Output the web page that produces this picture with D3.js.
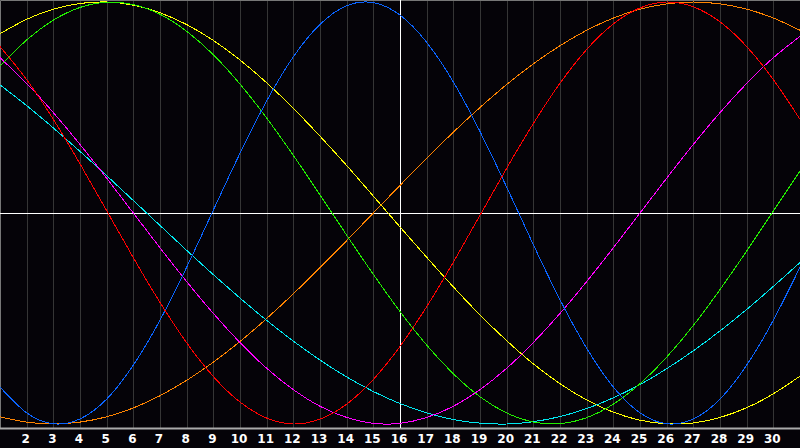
<!DOCTYPE html>
<html>
<head>
<meta charset="utf-8">
<script src="https://cdn.jsdelivr.net/npm/d3@7"></script>
<style>
  html, body { margin: 0; padding: 0; background: #050308; }
  svg { display: block; }
  .tick-label { font-family: "DejaVu Sans", sans-serif; font-weight: bold; font-size: 12px; fill: #fff; }
</style>
</head>
<body>
<div id="chart"></div>
<script>
// days shown on the axis, values in percent (-100..100)
var days = d3.range(1, 32);
var tickDays = d3.range(2, 31);
var today = 16;

var physical     = [-82.5,-94.7,-99.9,-97.6,-88.2,-72.1,-50.8,-25.7,1.4,28.3,53.1,74.0,89.4,98.2,99.7,93.8,80.9,62.1,38.6,12.3,-15.0,-41.1,-64.1,-82.5,-94.7,-99.9,-97.6,-88.2,-72.1,-50.8,-25.7];
var emotional    = [78.9,63.2,44.4,23.3,1.1,-21.2,-42.4,-61.5,-77.5,-89.6,-97.2,-100.0,-97.7,-90.6,-78.9,-63.2,-44.4,-23.3,-1.1,21.2,42.4,61.5,77.5,89.6,97.2,100.0,97.7,90.6,78.9,63.2,44.4];
var intellectual = [69.7,82.0,91.4,97.4,99.9,98.8,94.2,86.1,75.0,61.1,45.0,27.3,8.6,-10.5,-29.1,-46.7,-62.6,-76.2,-87.1,-94.8,-99.1,-99.8,-97.0,-90.6,-80.9,-68.3,-53.3,-36.3,-18.0,1.0,19.9];
var intuitive    = [73.6,61.4,47.6,32.5,16.5,0,-16.5,-32.5,-47.6,-61.4,-73.6,-83.7,-91.6,-96.9,-99.7,-99.7,-96.9,-91.6,-83.7,-73.6,-61.4,-47.6,-32.5,-16.5,0,16.5,32.5,47.6,61.4,73.6,83.7];
var aesthetic    = [85.0,91.8,96.6,99.3,100.0,98.5,94.9,89.3,81.8,72.5,61.7,49.6,36.4,22.5,8.0,-6.6,-21.0,-35.0,-48.3,-60.5,-71.5,-80.9,-88.6,-94.4,-98.2,-99.9,-99.5,-96.9,-92.3,-85.7,-77.3];
var awareness    = [-96.6,-99.1,-100,-99.1,-96.6,-92.4,-86.6,-79.3,-70.7,-60.9,-50.0,-38.3,-25.9,-13.1,0,13.1,25.9,38.3,50.0,60.9,70.7,79.3,86.6,92.4,96.6,99.1,100,99.1,96.6,92.4,86.6];
var spiritual    = [60.7,50.9,40.3,29.2,17.7,5.9,-5.9,-17.7,-29.2,-40.3,-50.9,-60.7,-69.7,-77.7,-84.6,-90.3,-94.7,-97.9,-99.6,-100.0,-98.9,-96.5,-92.7,-87.6,-81.3,-73.8,-65.3,-55.9,-45.7,-34.8,-23.5];

var series = [
	{name: 'aesthetic', color: '#ffff00', values: aesthetic},
	{name: 'awareness', color: '#ff8400', values: awareness},
	{name: 'spiritual', color: '#00e8f0', values: spiritual},
	{name: 'intuitive', color: '#ff00ff', values: intuitive},
	{name: 'intellectual', color: '#22ee00', values: intellectual},
	{name: 'physical', color: '#0a64ff', values: physical},
	{name: 'emotional', color: '#ff0000', values: emotional}
];

var width = 800, height = 448;
var plotBottom = 428;

var svg = d3.select('#chart').append('svg')
		.attr('width', width)
		.attr('height', height);

svg.append('rect')
	.attr('width', width).attr('height', height)
	.attr('fill', '#050308');

var x = d3.scaleLinear().domain([1, 31]).range([0, width]);
var y = d3.scaleLinear().domain([-100, 100]).range([424, 2]);

// day grid
svg.append('g').selectAll('line')
	.data(tickDays)
	.enter().append('line')
	.attr('x1', function(d) { return Math.round(x(d)) + 0.5; })
	.attr('x2', function(d) { return Math.round(x(d)) + 0.5; })
	.attr('y1', 0)
	.attr('y2', plotBottom)
	.attr('stroke', '#353535')
	.attr('stroke-width', 1);

// frame
svg.append('path')
	.attr('d', 'M0.5,' + plotBottom + ' V0.5 H' + width)
	.attr('fill', 'none')
	.attr('stroke', '#777')
	.attr('stroke-width', 1);
svg.append('line')
	.attr('x1', 0).attr('x2', width)
	.attr('y1', plotBottom + 0.5).attr('y2', plotBottom + 0.5)
	.attr('stroke', '#aaa')
	.attr('stroke-width', 2);

// crosshair: zero line and today
svg.append('line')
	.attr('x1', 0).attr('x2', width)
	.attr('y1', Math.round(y(0)) + 0.5).attr('y2', Math.round(y(0)) + 0.5)
	.attr('stroke', '#fff');
svg.append('line')
	.attr('x1', Math.round(x(today)) + 0.5).attr('x2', Math.round(x(today)) + 0.5)
	.attr('y1', 0).attr('y2', plotBottom)
	.attr('stroke', '#fff');

var line = d3.line()
		.x(function(d, i) { return x(days[i]); })
		.y(function(d) { return y(d); })
		.curve(d3.curveNatural);

svg.append('g').selectAll('path')
	.data(series)
	.enter().append('path')
	.attr('d', function(s) { return line(s.values); })
	.attr('fill', 'none')
	.attr('stroke', function(s) { return s.color; })
	.attr('stroke-width', 1)
	.attr('shape-rendering', 'crispEdges');

// day labels
svg.append('g').selectAll('text')
	.data(tickDays)
	.enter().append('text')
	.attr('class', 'tick-label')
	.attr('x', function(d) { return x(d) - 1; })
	.attr('y', 443)
	.attr('text-anchor', 'middle')
	.text(function(d) { return d; });
</script>
</body>
</html>
